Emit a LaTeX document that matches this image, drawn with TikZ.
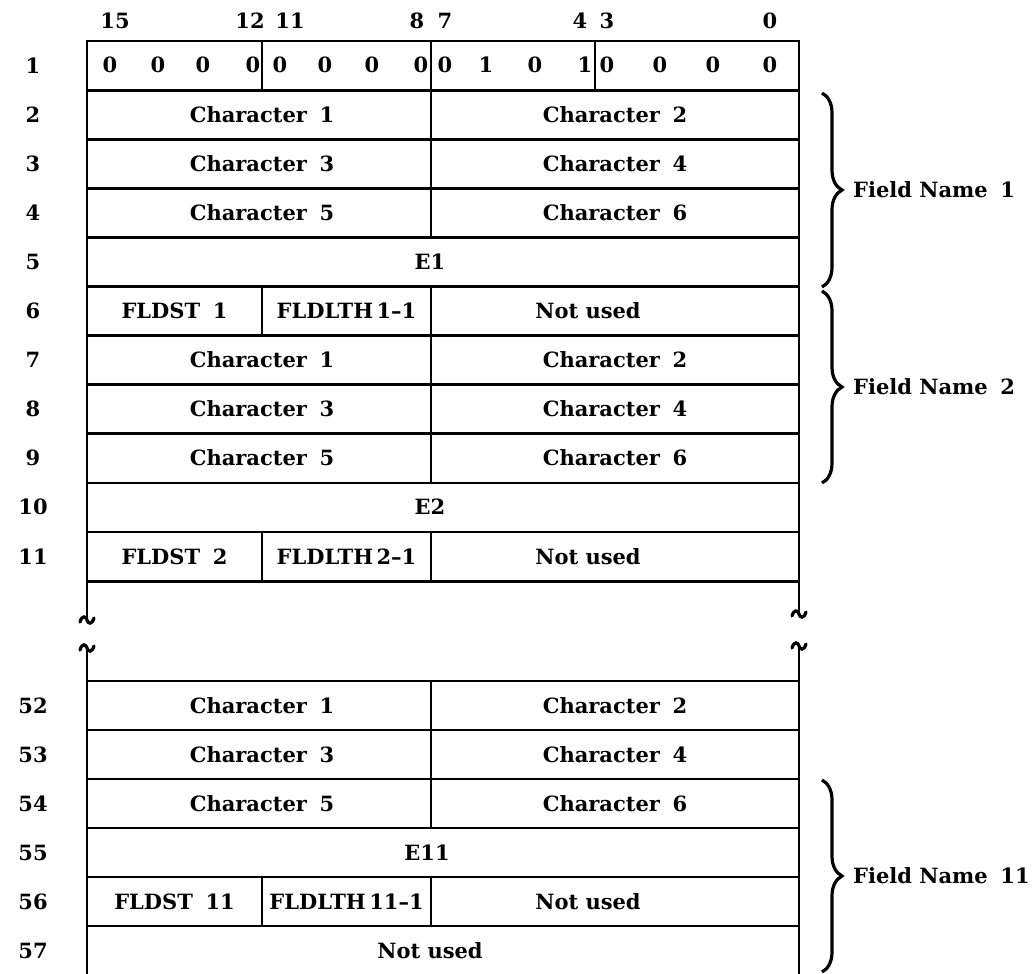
\documentclass[tikz,border=0pt]{standalone}
\usepackage{fontspec}
\setmainfont{DejaVu Serif}
\usetikzlibrary{decorations.pathreplacing}

\newcommand{\wsp}{\hspace{0.6em}}

\begin{document}
\begin{tikzpicture}[x=1pt,y=-1pt,
  rule/.style={line width=2.8pt},
  lbl/.style={font=\bfseries\fontsize{21}{25}\selectfont, inner sep=0pt,
              text height=15pt, text depth=0pt},
  fbrace/.style={decorate, decoration={brace, amplitude=20pt, aspect=0.5},
                 line width=3.2pt},
  squig/.pic={\draw[line width=3.2pt, line cap=round]
      (-7,2) .. controls (-5,-5) and (-1,-4) .. (0,0)
             .. controls (1,4) and (5,5) .. (7,-2);},
]
\useasboundingbox (0,0) rectangle (1036,974);

% bit positions above the word
\foreach \x/\t [count=\i] in {115/15,250/12,290/11,417/8,445/7,580/4,607/3,770/0}
  \node[lbl] (bitno\i) at (\x,21) {\t};

% word numbers, upper block
\foreach \r in {1,...,11}
  \node[lbl] (w\r) at (33,{41+(\r-0.5)*49.1}) {\r};
% word numbers, lower block
\foreach \r [count=\k] in {52,...,57}
  \node[lbl] (w\r) at (33,{681+(\k-0.5)*49}) {\r};

% upper block frame and rules
\draw[rule] (87,620) -- (87,41) -- (799,41) -- (799,614);
\foreach \k in {1,...,11}
  \draw[rule] (87,{41+\k*49.1}) -- (799,{41+\k*49.1});
\draw[rule] (262,41) -- (262,90.1);
\draw[rule] (431,41) -- (431,237.4);
\draw[rule] (595,41) -- (595,90.1);
\draw[rule] (262,286.5) -- (262,335.6);
\draw[rule] (431,286.5) -- (431,482.9);
\draw[rule] (262,532) -- (262,581.1);
\draw[rule] (431,532) -- (431,581.1);

% break marks
\pic at (87,620) {squig};
\pic at (799,614) {squig};
\pic at (87,648) {squig};
\pic at (799,646) {squig};

% lower block frame and rules
\draw[rule] (87,648) -- (87,974);
\draw[rule] (799,646) -- (799,974);
\foreach \k in {0,...,5}
  \draw[rule] (87,{681+\k*49}) -- (799,{681+\k*49});
\draw[rule] (431,681) -- (431,828);
\draw[rule] (262,877) -- (262,926);
\draw[rule] (431,877) -- (431,926);

% word 1 bit pattern
\foreach \x/\b [count=\i] in {110/0,158/0,203/0,253/0,280/0,325/0,372/0,421/0,
                              445/0,486/1,535/0,585/1,607/0,660/0,713/0,770/0}
  \node[lbl] (bit\i) at (\x,65.5) {\b};

% field name 1
\node[lbl] (c11) at (262,114.6) {Character\wsp1};
\node[lbl] (c12) at (615,114.6) {Character\wsp2};
\node[lbl] (c13) at (262,163.7) {Character\wsp3};
\node[lbl] (c14) at (615,163.7) {Character\wsp4};
\node[lbl] (c15) at (262,212.8) {Character\wsp5};
\node[lbl] (c16) at (615,212.8) {Character\wsp6};
\node[lbl] (e1) at (430,261.9) {E1};
\node[lbl] (fs1) at (174.5,311) {FLDST\wsp1};
\node[lbl] (fl1) at (346.5,311) {FLDLTH\,1--1};
\node[lbl] (nu1) at (588,311) {Not used};

% field name 2
\node[lbl] (c21) at (262,360.1) {Character\wsp1};
\node[lbl] (c22) at (615,360.1) {Character\wsp2};
\node[lbl] (c23) at (262,409.2) {Character\wsp3};
\node[lbl] (c24) at (615,409.2) {Character\wsp4};
\node[lbl] (c25) at (262,458.3) {Character\wsp5};
\node[lbl] (c26) at (615,458.3) {Character\wsp6};
\node[lbl] (e2) at (430,507.4) {E2};
\node[lbl] (fs2) at (174.5,556.5) {FLDST\wsp2};
\node[lbl] (fl2) at (346.5,556.5) {FLDLTH\,2--1};
\node[lbl] (nu2) at (588,556.5) {Not used};

% field name 11
\node[lbl] (cb1) at (262,705.5) {Character\wsp1};
\node[lbl] (cb2) at (615,705.5) {Character\wsp2};
\node[lbl] (cb3) at (262,754.5) {Character\wsp3};
\node[lbl] (cb4) at (615,754.5) {Character\wsp4};
\node[lbl] (cb5) at (262,803.5) {Character\wsp5};
\node[lbl] (cb6) at (615,803.5) {Character\wsp6};
\node[lbl] (e11) at (427,852.5) {E11};
\node[lbl] (fsb) at (174.5,901.5) {FLDST\wsp11};
\node[lbl] (flb) at (346.5,901.5) {FLDLTH\,11--1};
\node[lbl] (nub) at (588,901.5) {Not used};
\node[lbl] (nuc) at (430,950.5) {Not used};

% braces with field names
\coordinate (b1t) at (822,93);   \coordinate (b1b) at (822,287);
\coordinate (b2t) at (822,291);  \coordinate (b2b) at (822,483);
\coordinate (b3t) at (822,780);  \coordinate (b3b) at (822,972);
\draw[fbrace] (b1t) -- (b1b);
\draw[fbrace] (b2t) -- (b2b);
\draw[fbrace] (b3t) -- (b3b);
\node[lbl, anchor=west] (fn1) at (853,190) {Field Name\wsp1};
\node[lbl, anchor=west] (fn2) at (853,387) {Field Name\wsp2};
\node[lbl, anchor=west] (fn11) at (853,876) {Field Name\wsp11};
\end{tikzpicture}
\end{document}
